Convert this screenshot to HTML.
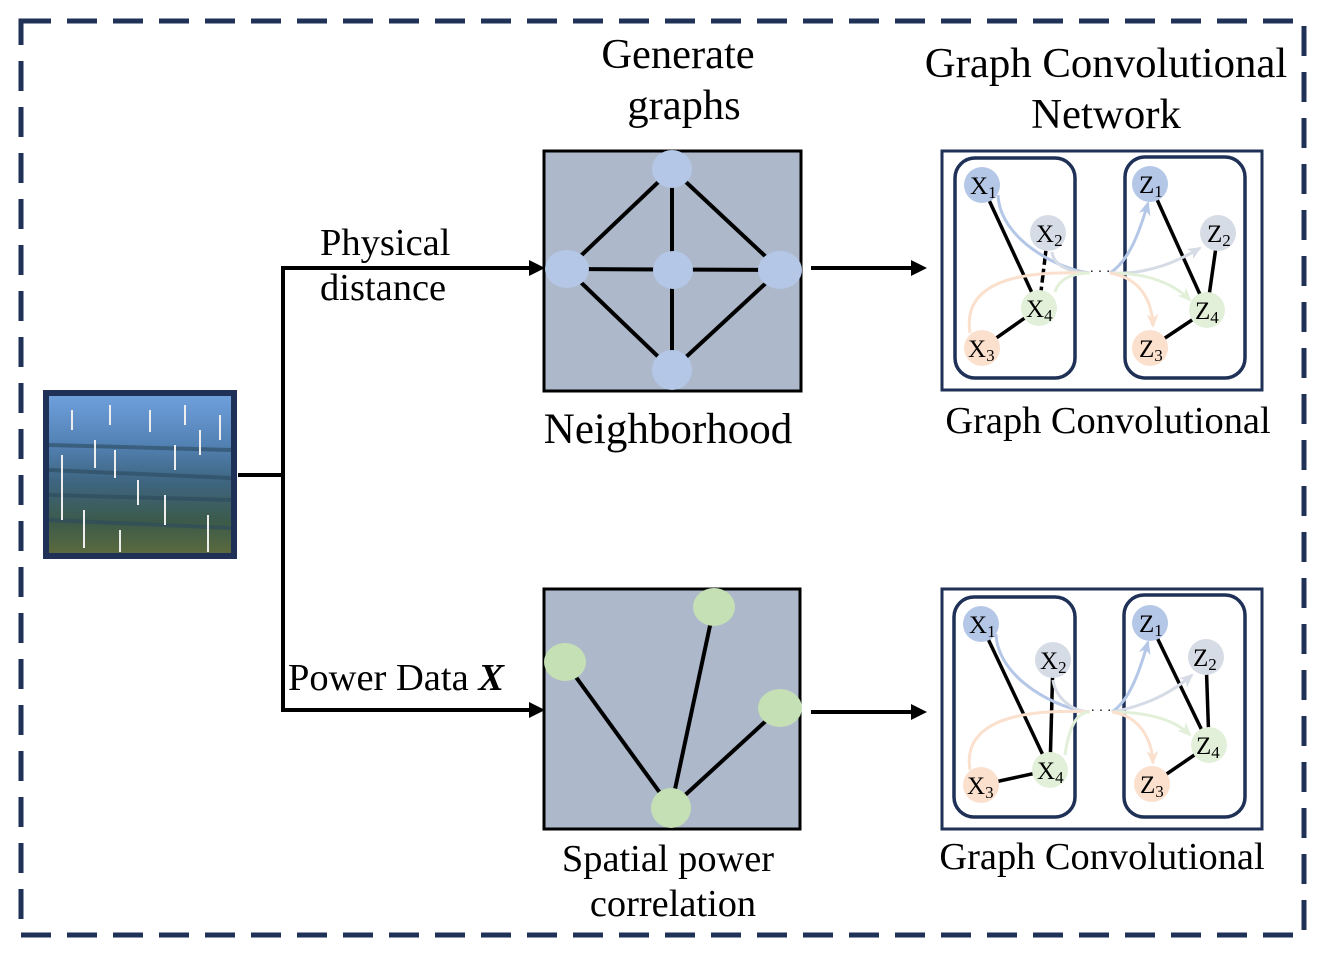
<!DOCTYPE html>
<html><head><meta charset="utf-8"><style>
html,body{margin:0;padding:0;background:#fff}
svg{display:block}
text{font-family:"Liberation Serif",serif;fill:#000}
</style></head><body>
<svg width="1324" height="957" viewBox="0 0 1324 957" xmlns="http://www.w3.org/2000/svg">
<defs>
<marker id="ab" markerWidth="14" markerHeight="12" refX="12" refY="6" orient="auto" markerUnits="userSpaceOnUse"><path d="M0,0 L14,6 L0,12 L4,6 Z" fill="#b4c7e7"/></marker>
<marker id="ag" markerWidth="14" markerHeight="12" refX="12" refY="6" orient="auto" markerUnits="userSpaceOnUse"><path d="M0,0 L14,6 L0,12 L4,6 Z" fill="#d6dce5"/></marker>
<marker id="agr" markerWidth="14" markerHeight="12" refX="12" refY="6" orient="auto" markerUnits="userSpaceOnUse"><path d="M0,0 L14,6 L0,12 L4,6 Z" fill="#e2f0d9"/></marker>
<marker id="ao" markerWidth="14" markerHeight="12" refX="12" refY="6" orient="auto" markerUnits="userSpaceOnUse"><path d="M0,0 L14,6 L0,12 L4,6 Z" fill="#fbe0ce"/></marker>
<linearGradient id="img" x1="0" y1="0" x2="0" y2="1">
<stop offset="0" stop-color="#6fa0dc"/><stop offset="0.3" stop-color="#5382b5"/><stop offset="0.55" stop-color="#3e6580"/><stop offset="0.8" stop-color="#3c5a4a"/><stop offset="1" stop-color="#5a6a3e"/></linearGradient>
</defs>
<rect x="21" y="21" width="1283" height="914" fill="none" stroke="#1f3157" stroke-width="5" stroke-dasharray="30,16"/>

<!-- image -->
<rect x="43" y="390" width="194" height="169" fill="#1f3157"/>
<rect x="49" y="396" width="182" height="157" fill="url(#img)"/>
<g stroke="#2c4a5e" stroke-width="4" opacity="0.6">
<line x1="49" y1="445" x2="231" y2="450"/><line x1="49" y1="470" x2="231" y2="478"/><line x1="49" y1="495" x2="231" y2="500"/><line x1="49" y1="520" x2="231" y2="528"/>
</g>
<g stroke="#eee" stroke-width="2">
<line x1="62" y1="455" x2="62" y2="520"/><line x1="84" y1="510" x2="84" y2="548"/><line x1="138" y1="480" x2="138" y2="505"/><line x1="165" y1="495" x2="165" y2="525"/><line x1="208" y1="515" x2="208" y2="552"/><line x1="115" y1="450" x2="115" y2="478"/><line x1="95" y1="440" x2="95" y2="468"/><line x1="175" y1="445" x2="175" y2="470"/><line x1="200" y1="430" x2="200" y2="455"/><line x1="120" y1="530" x2="120" y2="552"/>
<line x1="72" y1="410" x2="72" y2="430"/><line x1="110" y1="405" x2="110" y2="425"/><line x1="150" y1="410" x2="150" y2="432"/><line x1="185" y1="405" x2="185" y2="425"/><line x1="220" y1="415" x2="220" y2="440"/>
</g>

<!-- connectors -->
<g stroke="#000" stroke-width="4" fill="none">
<polyline points="238,475 283,475"/>
<polyline points="283,268 283,710"/>
<line x1="281" y1="268" x2="536" y2="268"/>
<line x1="281" y1="710" x2="536" y2="710"/>
<line x1="811" y1="268" x2="918" y2="268"/>
<line x1="811" y1="712" x2="918" y2="712"/>
</g>
<g fill="#000">
<path d="M545,268 L529,260 L529,276 Z"/>
<path d="M545,710 L529,702 L529,718 Z"/>
<path d="M927,268 L911,260 L911,276 Z"/>
<path d="M927,712 L911,704 L911,720 Z"/>
</g>

<!-- neighborhood -->
<rect x="544" y="151" width="257" height="240" fill="#adb9ca" stroke="#000" stroke-width="3"/>
<g stroke="#000" stroke-width="4">
<line x1="672" y1="169" x2="567" y2="269"/><line x1="672" y1="169" x2="780" y2="270"/><line x1="672" y1="169" x2="672" y2="370"/>
<line x1="567" y1="269" x2="780" y2="270"/><line x1="567" y1="269" x2="672" y2="370"/><line x1="780" y1="270" x2="672" y2="370"/>
</g>
<g fill="#b4c7e7">
<ellipse cx="672" cy="169" rx="20" ry="19"/><ellipse cx="567" cy="269" rx="22" ry="19"/><ellipse cx="673" cy="270" rx="20" ry="19"/><ellipse cx="780" cy="270" rx="22" ry="19"/><ellipse cx="672" cy="370" rx="20" ry="20"/>
</g>

<!-- spatial -->
<rect x="544" y="589" width="256" height="240" fill="#adb9ca" stroke="#000" stroke-width="3"/>
<g stroke="#000" stroke-width="4">
<line x1="565" y1="662" x2="671" y2="808"/><line x1="714" y1="607" x2="671" y2="808"/><line x1="780" y1="708" x2="671" y2="808"/>
</g>
<g fill="#c5e0b4">
<ellipse cx="565" cy="662" rx="21" ry="19"/><ellipse cx="714" cy="607" rx="21" ry="19"/><ellipse cx="780" cy="708" rx="22" ry="19"/><ellipse cx="671" cy="808" rx="20" ry="20"/>
</g>

<!-- GCN top -->
<g>
<rect x="942" y="151" width="320" height="239" fill="#fff" stroke="#1f3157" stroke-width="3"/>
<rect x="955" y="158" width="120" height="220" rx="20" fill="none" stroke="#1f3157" stroke-width="3.5"/>
<rect x="1125" y="157" width="120" height="221" rx="20" fill="none" stroke="#1f3157" stroke-width="3.5"/>
<g stroke="#000" stroke-width="3.5">
<line x1="982" y1="185" x2="1039" y2="308"/><line x1="1048" y1="233" x2="1039" y2="308" stroke-dasharray="14,4"/><line x1="982" y1="348" x2="1039" y2="308"/>
<line x1="1150" y1="184" x2="1207" y2="310"/><line x1="1218" y1="233" x2="1207" y2="310"/><line x1="1150" y1="348" x2="1207" y2="310"/>
</g>
<g fill="none" stroke-width="3">
<path d="M998,195 C1000,240 1060,270 1090,273" stroke="#b4c7e7"/>
<path d="M1052,252 C1054,268 1075,273 1090,273" stroke="#d6dce5"/>
<path d="M970,333 C960,270 1050,272 1090,273" stroke="#fbe0ce"/>
<path d="M1055,292 C1060,275 1080,273 1090,273" stroke="#e2f0d9"/>
<path d="M1110,273 C1130,260 1140,230 1148,203" stroke="#b4c7e7" marker-end="url(#ab)"/>
<path d="M1110,273 C1150,275 1180,260 1200,248" stroke="#d6dce5" marker-end="url(#ag)"/>
<path d="M1110,273 C1150,273 1175,285 1190,300" stroke="#e2f0d9" marker-end="url(#agr)"/>
<path d="M1110,273 C1140,278 1152,300 1153,326" stroke="#fbe0ce" marker-end="url(#ao)"/>
</g>
<text x="1100" y="276" font-size="14" text-anchor="middle">· · ·</text>
<circle cx="982" cy="185" r="18" fill="#b4c7e7"/><circle cx="1048" cy="233" r="18" fill="#d6dce5"/><circle cx="1039" cy="308" r="18" fill="#e2f0d9"/><circle cx="982" cy="348" r="18" fill="#fbe0ce"/>
<circle cx="1150" cy="184" r="18" fill="#b4c7e7"/><circle cx="1218" cy="233" r="18" fill="#d6dce5"/><circle cx="1207" cy="310" r="18" fill="#e2f0d9"/><circle cx="1150" cy="348" r="18" fill="#fbe0ce"/>
<g font-size="25">
<text x="970" y="194">X<tspan font-size="17" dy="4">1</tspan></text>
<text x="1036" y="242">X<tspan font-size="17" dy="4">2</tspan></text>
<text x="1026" y="317">X<tspan font-size="17" dy="4">4</tspan></text>
<text x="968" y="357">X<tspan font-size="17" dy="4">3</tspan></text>
<text x="1139" y="193">Z<tspan font-size="17" dy="4">1</tspan></text>
<text x="1207" y="242">Z<tspan font-size="17" dy="4">2</tspan></text>
<text x="1195" y="319">Z<tspan font-size="17" dy="4">4</tspan></text>
<text x="1139" y="357">Z<tspan font-size="17" dy="4">3</tspan></text>
</g>
</g>

<!-- GCN bottom -->
<g>
<rect x="942" y="589" width="320" height="240" fill="#fff" stroke="#1f3157" stroke-width="3"/>
<rect x="954" y="597" width="121" height="220" rx="20" fill="none" stroke="#1f3157" stroke-width="3.5"/>
<rect x="1124" y="595" width="121" height="222" rx="20" fill="none" stroke="#1f3157" stroke-width="3.5"/>
<g stroke="#000" stroke-width="3.5">
<line x1="981" y1="624" x2="1050" y2="770"/><line x1="1053" y1="660" x2="1050" y2="770"/><line x1="981" y1="785" x2="1050" y2="770"/>
<line x1="1150" y1="623" x2="1209" y2="745"/><line x1="1206" y1="657" x2="1209" y2="745"/><line x1="1152" y1="784" x2="1209" y2="745"/>
</g>
<g fill="none" stroke-width="3">
<path d="M996,634 C998,680 1060,710 1090,712" stroke="#b4c7e7"/>
<path d="M1053,680 C1056,700 1075,712 1090,712" stroke="#d6dce5"/>
<path d="M970,770 C960,710 1050,710 1090,712" stroke="#fbe0ce"/>
<path d="M1065,755 C1070,720 1080,712 1090,712" stroke="#e2f0d9"/>
<path d="M1112,712 C1130,700 1140,670 1148,642" stroke="#b4c7e7" marker-end="url(#ab)"/>
<path d="M1112,712 C1150,705 1175,690 1192,675" stroke="#d6dce5" marker-end="url(#ag)"/>
<path d="M1112,712 C1150,712 1175,720 1190,735" stroke="#e2f0d9" marker-end="url(#agr)"/>
<path d="M1112,712 C1140,716 1152,740 1153,763" stroke="#fbe0ce" marker-end="url(#ao)"/>
</g>
<text x="1101" y="715" font-size="14" text-anchor="middle">· · ·</text>
<circle cx="981" cy="624" r="18" fill="#b4c7e7"/><circle cx="1053" cy="660" r="18" fill="#d6dce5"/><circle cx="1050" cy="770" r="18" fill="#e2f0d9"/><circle cx="981" cy="785" r="18" fill="#fbe0ce"/>
<circle cx="1150" cy="623" r="18" fill="#b4c7e7"/><circle cx="1206" cy="657" r="18" fill="#d6dce5"/><circle cx="1209" cy="745" r="18" fill="#e2f0d9"/><circle cx="1152" cy="784" r="18" fill="#fbe0ce"/>
<g font-size="25">
<text x="969" y="633">X<tspan font-size="17" dy="4">1</tspan></text>
<text x="1040" y="669">X<tspan font-size="17" dy="4">2</tspan></text>
<text x="1037" y="779">X<tspan font-size="17" dy="4">4</tspan></text>
<text x="967" y="794">X<tspan font-size="17" dy="4">3</tspan></text>
<text x="1139" y="632">Z<tspan font-size="17" dy="4">1</tspan></text>
<text x="1193" y="666">Z<tspan font-size="17" dy="4">2</tspan></text>
<text x="1196" y="754">Z<tspan font-size="17" dy="4">4</tspan></text>
<text x="1140" y="793">Z<tspan font-size="17" dy="4">3</tspan></text>
</g>
</g>

<!-- labels -->
<g font-size="42.5" text-anchor="middle">
<text x="678" y="68">Generate</text>
<text x="684" y="119">graphs</text>
<text x="1106" y="77" font-size="42.8">Graph Convolutional</text>
<text x="1106" y="128" font-size="42.8">Network</text>
<text x="668" y="443" font-size="43">Neighborhood</text>
</g>
<g font-size="38.5">
<text x="320" y="255">Physical</text>
<text x="320" y="300">distance</text>
<text x="288" y="690">Power Data <tspan font-weight="bold" font-style="italic">X</tspan></text>
</g>
<g font-size="38.4" text-anchor="middle">
<text x="1108" y="433">Graph Convolutional</text>
<text x="668" y="871">Spatial power</text>
<text x="673" y="916">correlation</text>
<text x="1102" y="869">Graph Convolutional</text>
</g>
</svg>
</body></html>
